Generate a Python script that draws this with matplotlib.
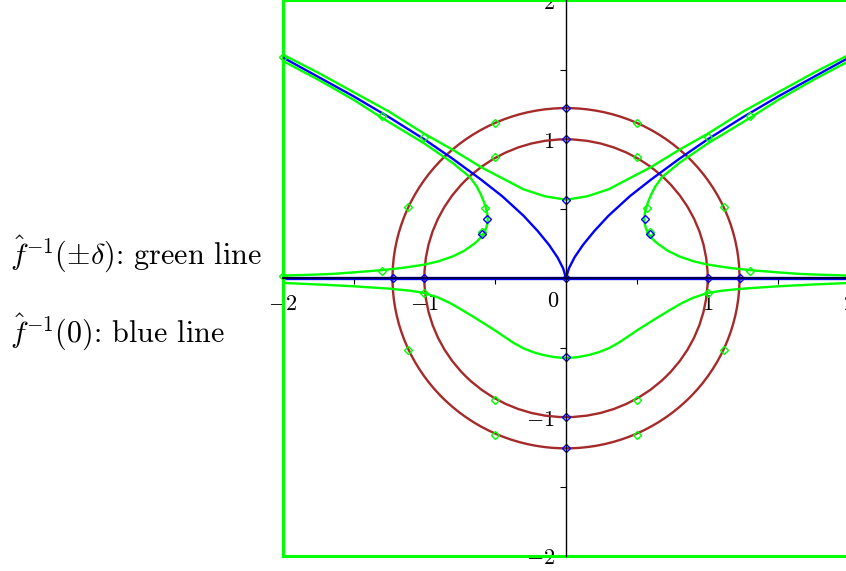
import numpy as np
import matplotlib
matplotlib.use("Agg")
import matplotlib.pyplot as plt
from matplotlib.patches import Circle
from matplotlib.ticker import FixedLocator, FixedFormatter

plt.rcParams['mathtext.fontset'] = 'cm'
plt.rcParams['font.family'] = 'serif'

# curves are read for x <= 0, the right half is the mirror image
blue_x = [-2.0, -1.75, -1.5, -1.25, -1.0, -0.8, -0.6, -0.45, -0.3, -0.2, -0.12, -0.06, -0.02, 0.0]
blue_y = [1.59, 1.45, 1.31, 1.16, 1.0, 0.86, 0.71, 0.59, 0.45, 0.34, 0.24, 0.15, 0.07, 0.0]

# +delta branch, crosses the y axis above the cusp
up_x = [-2.0, -1.75, -1.5, -1.25, -1.0, -0.8, -0.6, -0.45, -0.3, -0.15, 0.0]
up_y = [1.61, 1.48, 1.34, 1.20, 1.04, 0.925, 0.80, 0.72, 0.64, 0.59, 0.565]

# -delta branch with the S bend, comes back out along the x axis
s_x = [-2.0, -1.75, -1.5, -1.3, -1.0, -0.8, -0.68, -0.63, -0.6, -0.58, -0.565, -0.556, -0.553,
       -0.557, -0.566, -0.58, -0.6, -0.625, -0.655, -0.72, -0.8, -0.9, -1.0, -1.15, -1.3, -1.5, -1.65, -1.8, -2.0]
s_y = [1.565, 1.43, 1.285, 1.155, 0.97, 0.83, 0.73, 0.66, 0.60, 0.55, 0.505, 0.465, 0.42,
       0.385, 0.355, 0.325, 0.295, 0.268, 0.243, 0.197, 0.157, 0.122, 0.098, 0.075, 0.058, 0.042, 0.031, 0.025, 0.019]

# -delta branch below the x axis
low_x = [-2.0, -1.75, -1.5, -1.25, -1.1, -1.0, -0.9, -0.82, -0.74, -0.66, -0.58, -0.51, -0.44,
         -0.37, -0.3, -0.23, -0.16, -0.09, -0.04, 0.0]
low_y = [-0.034, -0.045, -0.058, -0.075, -0.09, -0.106, -0.14, -0.178, -0.225, -0.274, -0.325, -0.370, -0.418,
         -0.466, -0.505, -0.533, -0.553, -0.567, -0.572, -0.574]

radii = [1.0, 1.225]

# point markers
gm_x = [-2.0, -2.0, -1.3, -1.0, -1.3, -1.0, -0.573, -0.59, -0.5, -0.5, -1.116, -1.116, -0.5, -0.5]
gm_y = [1.59, 0.016, 1.17, 1.02, 0.055, -0.106, 0.503, 0.334, 1.12, 0.87, 0.513, -0.52, -0.876, -1.13]
bm_x = [-1.0, -1.225, -0.561, -0.59]
bm_y = [0.0, 0.0, 0.424, 0.315]
bm_axis_y = [1.225, 1.0, 0.56, 0.0, -0.57, -1.0, -1.225]

tick_vals = [-2, -1, 1, 2]
tick_text = ['$-2$', '$-1$', '$1$', '$2$']
minor_vals = [-1.5, -0.5, 0.5, 1.5]

green = '#00ff00'
blue = '#0000ff'
brown = '#a52a2a'


def both(xs, ys):
	xs = np.array(xs)
	ys = np.array(ys)
	return np.concatenate([xs, -xs[::-1]]), np.concatenate([ys, ys[::-1]])


fig = plt.figure(figsize=(8.46, 5.71), dpi=100)
ax = fig.add_axes([0.3342, 0.0263, 0.6697, 0.9729])
ax.set_xlim(-2, 2)
ax.set_ylim(-2, 2)

# frame of the plotted region
ax.plot([-2, 2, 2, -2, -2], [-2, -2, 2, 2, -2], color=green, lw=2.2, clip_on=False, zorder=2)

for r in radii:
	ax.add_patch(Circle((0, 0), r, fill=False, ec=brown, lw=1.7, zorder=3))

# x axis is part of the zero set too
ax.plot([-2, 2], [0, 0], color=blue, lw=2.4, zorder=3)
bx, by = both(blue_x, blue_y)
ax.plot(bx, by, color=blue, lw=1.7, zorder=3)

for cx, cy in [(up_x, up_y), (low_x, low_y)]:
	px, py = both(cx, cy)
	ax.plot(px, py, color=green, lw=1.7, zorder=4)
s_x = np.array(s_x)
ax.plot(s_x, s_y, color=green, lw=1.7, zorder=4)
ax.plot(-s_x, s_y, color=green, lw=1.7, zorder=4)

gx = np.array(gm_x)
ax.plot(np.concatenate([gx, -gx]), gm_y + gm_y, 'D', ms=4, mfc='none', mec=green, mew=1.0, zorder=5, clip_on=False)
bxm = np.array(bm_x)
ax.plot(np.concatenate([bxm, -bxm, np.zeros(len(bm_axis_y))]), bm_y + bm_y + bm_axis_y,
	'D', ms=4, mfc='none', mec=blue, mew=1.0, zorder=5)

for s in ['top', 'right']:
	ax.spines[s].set_visible(False)
ax.spines['left'].set_position(('data', 0))
ax.spines['bottom'].set_position(('data', 0))
ax.spines['left'].set_linewidth(1.0)
ax.spines['bottom'].set_linewidth(1.3)
ax.spines['bottom'].set_color('#000030')
ax.spines['left'].set_zorder(6)
ax.spines['bottom'].set_zorder(6)

ax.xaxis.set_major_locator(FixedLocator(tick_vals))
ax.xaxis.set_major_formatter(FixedFormatter(tick_text))
ax.xaxis.set_minor_locator(FixedLocator(minor_vals))
ax.yaxis.set_major_locator(FixedLocator(tick_vals))
ax.yaxis.set_major_formatter(FixedFormatter(tick_text))
ax.yaxis.set_minor_locator(FixedLocator(minor_vals))
ax.tick_params(which='both', direction='out', length=4, width=0.8, labelsize=16)
ax.tick_params(axis='x', which='major', pad=7)
ax.tick_params(axis='y', which='major', pad=4)
ax.text(-0.092, -0.166, '$0$', fontsize=16, ha='center', va='center')

fig.text(10 / 846, 0.536, r'$\hat{f}^{-1}(\pm\delta)$: green line', fontsize=21.7, va='baseline', family='cmr10')
fig.text(10 / 846, 0.399, r'$\hat{f}^{-1}(0)$: blue line', fontsize=21.7, va='baseline', family='cmr10')

fig.savefig('out.png', dpi=100)
